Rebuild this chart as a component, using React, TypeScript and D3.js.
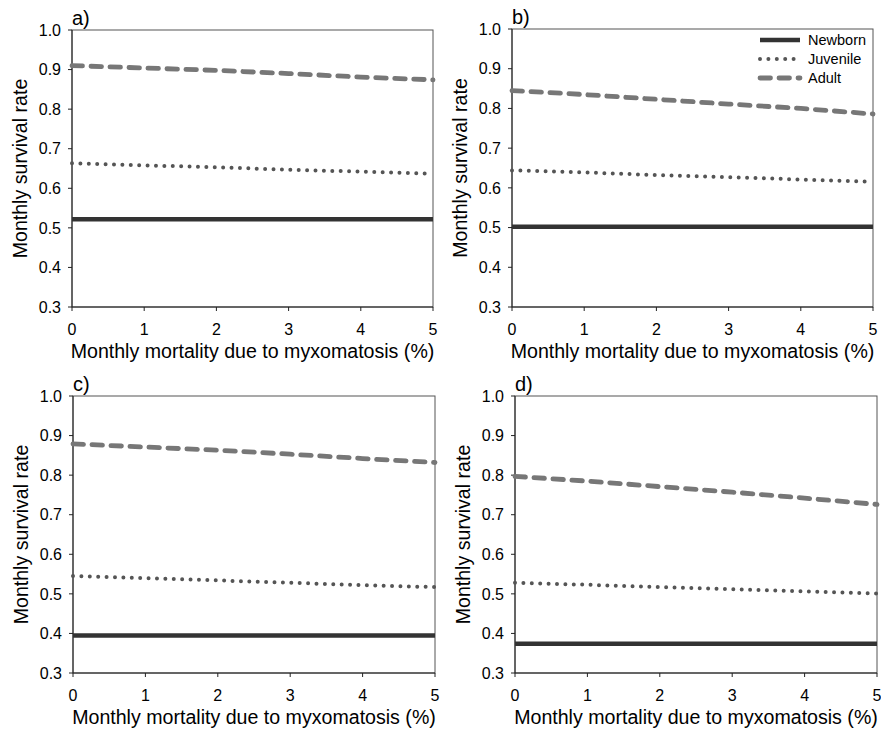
import React from "react";
import * as d3 from "d3";

// x values: monthly mortality due to myxomatosis (%)
const mortality = [0, 1, 2, 3, 4, 5];

const panelLabels = ["a)", "b)", "c)", "d)"];
const yTicks = [0.3, 0.4, 0.5, 0.6, 0.7, 0.8, 0.9, 1.0];
const xTicks = [0, 1, 2, 3, 4, 5];

const newbornA = [0.522, 0.522, 0.522, 0.522, 0.522, 0.522];
const juvenileA = [0.663, 0.658, 0.653, 0.647, 0.642, 0.637];
const adultA = [0.910, 0.904, 0.898, 0.890, 0.881, 0.874];

const newbornB = [0.502, 0.502, 0.502, 0.502, 0.502, 0.502];
const juvenileB = [0.644, 0.639, 0.632, 0.627, 0.621, 0.615];
const adultB = [0.845, 0.835, 0.823, 0.811, 0.800, 0.786];

const newbornC = [0.395, 0.395, 0.395, 0.395, 0.395, 0.395];
const juvenileC = [0.545, 0.540, 0.534, 0.528, 0.522, 0.517];
const adultC = [0.879, 0.871, 0.863, 0.853, 0.842, 0.832];

const newbornD = [0.374, 0.374, 0.374, 0.374, 0.374, 0.374];
const juvenileD = [0.528, 0.523, 0.517, 0.512, 0.506, 0.501];
const adultD = [0.797, 0.785, 0.771, 0.757, 0.742, 0.726];

const seriesNames = ["Newborn", "Juvenile", "Adult"];

const STYLES = [
  { stroke: "#333", width: 4.5, dash: undefined, cap: "butt" },
  { stroke: "#555", width: 4, dash: "0 8.4", cap: "round" },
  { stroke: "#777", width: 4.8, dash: "10.5 8.5", cap: "round" },
];

const PANELS = [
  { left: 72, top: 30, w: 361, h: 277, data: [newbornA, juvenileA, adultA] },
  { left: 512, top: 29, w: 361, h: 278, data: [newbornB, juvenileB, adultB], legend: true },
  { left: 73, top: 396, w: 362, h: 277, data: [newbornC, juvenileC, adultC] },
  { left: 515, top: 396, w: 362, h: 277, data: [newbornD, juvenileD, adultD] },
];

const FONT = "Arial, 'Liberation Sans', sans-serif";

const Panel = ({ p, label }) => {
  const x = d3.scaleLinear().domain([0, 5]).range([0, p.w]);
  const y = d3.scaleLinear().domain([0.3, 1.0]).range([p.h, 0]);
  const line = d3.line<number>()
    .x((_, i) => x(mortality[i]))
    .y(d => y(d));

  return (
    <g transform={`translate(${p.left},${p.top})`}>
      {/* frame */}
      <rect x={0} y={0} width={p.w} height={p.h} fill="none" stroke="#555" strokeWidth={1} />
      <line x1={0} y1={0} x2={0} y2={p.h} stroke="#222" />
      <line x1={0} y1={p.h} x2={p.w} y2={p.h} stroke="#222" />

      {yTicks.map(t => (
        <g key={t} transform={`translate(0,${y(t)})`}>
          <line x1={-4} x2={0} stroke="#222" />
          <text x={-11} dy="0.36em" textAnchor="end" fontSize={16} fontFamily={FONT}>
            {t.toFixed(1)}
          </text>
        </g>
      ))}
      {xTicks.map(t => (
        <g key={t} transform={`translate(${x(t)},${p.h})`}>
          <line y1={0} y2={4} stroke="#222" />
          <text y={28} textAnchor="middle" fontSize={16} fontFamily={FONT}>{t}</text>
        </g>
      ))}

      {p.data.map((s, i) => (
        <path key={i} d={line(s) || ""} fill="none" stroke={STYLES[i].stroke}
          strokeWidth={STYLES[i].width} strokeDasharray={STYLES[i].dash}
          strokeLinecap={STYLES[i].cap} />
      ))}

      <text x={0} y={-5} fontSize={20} fontFamily={FONT}>{label}</text>
      <text x={p.w / 2} y={p.h + 51} textAnchor="middle" fontSize={19.6} fontFamily={FONT}>
        Monthly mortality due to myxomatosis (%)
      </text>
      <text transform={`translate(${-45},${p.h / 2}) rotate(-90)`} textAnchor="middle"
        fontSize={19.6} fontFamily={FONT}>
        Monthly survival rate
      </text>

      {p.legend && seriesNames.map((n, i) => (
        <g key={n} transform={`translate(${248},${11 + i * 19})`}>
          <line x1={0} x2={40} stroke={STYLES[i].stroke} strokeWidth={STYLES[i].width}
            strokeDasharray={STYLES[i].dash} strokeLinecap={STYLES[i].cap} />
          <text x={48} dy="0.35em" fontSize={14.5} fontFamily={FONT}>{n}</text>
        </g>
      ))}
    </g>
  );
};

export default function App() {
  return (
    <svg width={881} height={730} style={{ position: "absolute", left: 0, top: 0, background: "#fff" }}>
      <rect width={881} height={730} fill="#fff" />
      {PANELS.map((p, i) => <Panel key={i} p={p} label={panelLabels[i]} />)}
    </svg>
  );
}
